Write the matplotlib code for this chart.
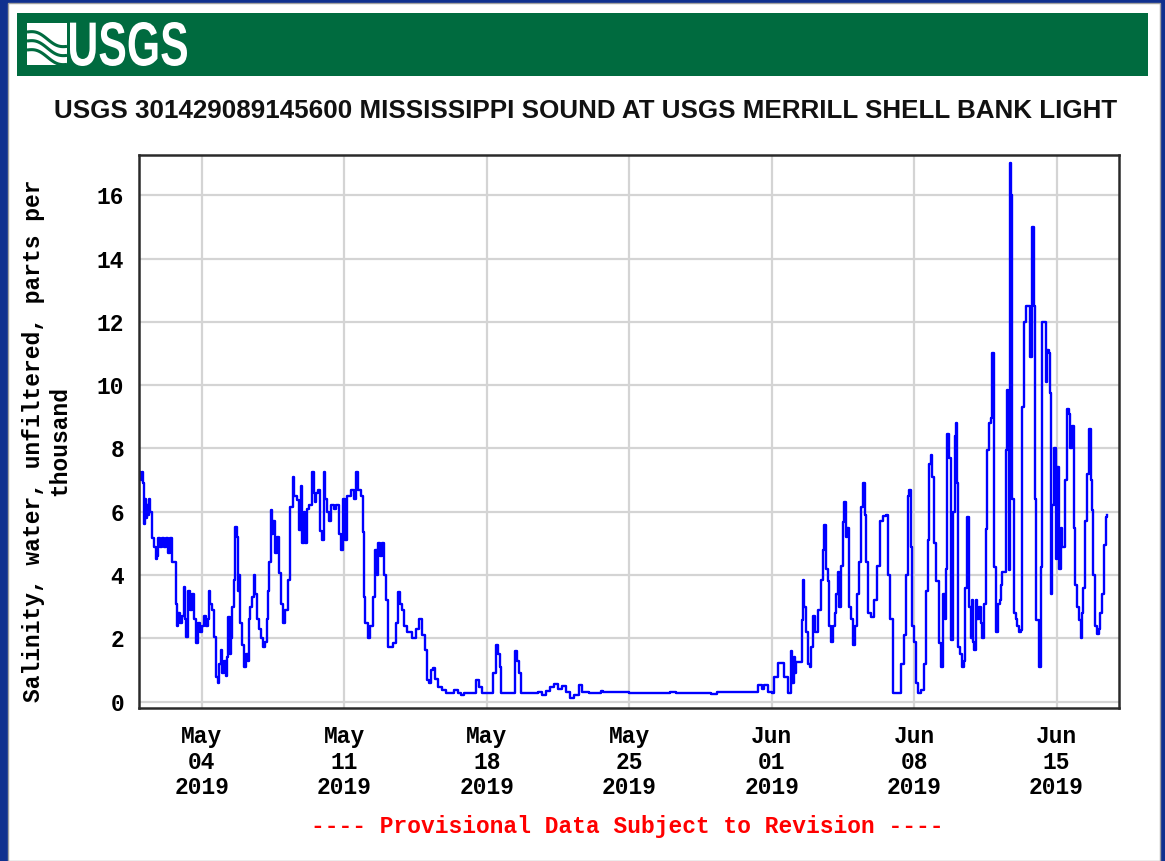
import numpy as np
import pandas as pd
import matplotlib
matplotlib.use('Agg')
import matplotlib.pyplot as plt
import matplotlib.dates as mdates
from matplotlib.patches import Rectangle, PathPatch
from matplotlib.textpath import TextPath
from matplotlib.font_manager import FontProperties
from matplotlib.transforms import Affine2D

# dias contados a partir de 2019-05-01 00:00
dias = [
    -0.08, 0.0, 0.05, 0.12, 0.15, 0.2, 0.25, 0.3, 0.35, 0.4, 0.45, 0.55, 0.65, 0.72, 0.8, 0.85,
    0.95, 1.05, 1.15, 1.25, 1.35, 1.45, 1.55, 1.7, 1.75, 1.8, 1.9, 2.0, 2.1, 2.15, 2.2, 2.3,
    2.4, 2.5, 2.6, 2.7, 2.8, 2.9, 3.0, 3.1, 3.2, 3.3, 3.35, 3.4, 3.5, 3.6, 3.7, 3.78,
    3.85, 3.95, 4.0, 4.1, 4.2, 4.25, 4.3, 4.38, 4.45, 4.5, 4.55, 4.6, 4.62, 4.7, 4.75, 4.8,
    4.85, 4.95, 5.05, 5.15, 5.25, 5.3, 5.35, 5.45, 5.55, 5.6, 5.7, 5.8, 5.9, 6.0, 6.1, 6.2,
    6.25, 6.3, 6.4, 6.45, 6.5, 6.6, 6.7, 6.8, 6.9, 7.0, 7.1, 7.25, 7.35, 7.45, 7.52, 7.65,
    7.75, 7.85, 7.92, 8.0, 8.06, 8.15, 8.25, 8.43, 8.5, 8.55, 8.6, 8.7, 8.8, 8.9, 8.99, 9.05,
    9.15, 9.25, 9.35, 9.5, 9.6, 9.75, 9.85, 9.94, 10.05, 10.15, 10.3, 10.45, 10.59, 10.65, 10.8, 10.9,
    10.95, 11.0, 11.15, 11.25, 11.4, 11.5, 11.6, 11.65, 11.75, 11.85, 11.95, 12.05, 12.15, 12.4, 12.55, 12.64,
    12.75, 12.85, 12.95, 13.1, 13.3, 13.5, 13.65, 13.8, 13.95, 14.05, 14.15, 14.25, 14.35, 14.45, 14.6, 14.8,
    15.0, 15.4, 15.6, 15.75, 15.9, 16.3, 16.45, 16.6, 16.75, 17.2, 17.3, 17.45, 17.55, 17.65, 17.71, 18.3,
    18.37, 18.5, 18.6, 18.7, 19.5, 19.7, 19.9, 20.1, 20.3, 20.5, 20.7, 20.9, 21.1, 21.3, 21.55, 21.7,
    22.0, 22.6, 22.7, 24.0, 26.0, 26.3, 28.0, 28.3, 30.3, 30.35, 30.5, 30.6, 30.8, 31.0, 31.1, 31.3,
    31.5, 31.6, 31.8, 31.95, 32.0, 32.08, 32.15, 32.2, 32.5, 32.55, 32.6, 32.7, 32.8, 32.88, 32.95, 33.05,
    33.15, 33.3, 33.42, 33.5, 33.58, 33.65, 33.75, 33.83, 33.92, 34.0, 34.1, 34.18, 34.25, 34.33, 34.4, 34.49,
    34.57, 34.65, 34.72, 34.8, 34.9, 35.0, 35.1, 35.2, 35.3, 35.4, 35.5, 35.58, 35.65, 35.75, 35.9, 36.05,
    36.2, 36.3, 36.45, 36.6, 36.7, 36.8, 36.94, 37.2, 37.35, 37.5, 37.6, 37.68, 37.75, 37.85, 37.92, 38.0,
    38.1, 38.17, 38.33, 38.5, 38.6, 38.7, 38.75, 38.82, 38.9, 39.0, 39.1, 39.2, 39.3, 39.4, 39.5, 39.55,
    39.6, 39.64, 39.72, 39.8, 39.9, 40.0, 40.05, 40.1, 40.15, 40.18, 40.25, 40.37, 40.45, 40.5, 40.62, 40.68,
    40.72, 40.78, 40.85, 40.9, 40.95, 41.02, 41.1, 41.2, 41.28, 41.36, 41.45, 41.52, 41.6, 41.7, 41.78, 41.85,
    41.93, 42.01, 42.1, 42.2, 42.26, 42.34, 42.42, 42.5, 42.55, 42.6, 42.66, 42.72, 42.78, 42.83, 42.92, 43.0,
    43.08, 43.16, 43.24, 43.32, 43.4, 43.48, 43.63, 43.7, 43.81, 43.88, 43.95, 44.0, 44.14, 44.22, 44.3, 44.4,
    44.47, 44.55, 44.63, 44.7, 44.75, 44.8, 44.88, 44.95, 45.04, 45.1, 45.2, 45.28, 45.4, 45.53, 45.6, 45.68,
    45.78, 45.85, 45.93, 46.0, 46.1, 46.18, 46.25, 46.32, 46.4, 46.5, 46.59, 46.67, 46.75, 46.8, 46.9, 47.0,
    47.08, 47.15, 47.25, 47.33, 47.41, 47.48,
]

salinidade = [
    7.26, 7.0, 7.26, 6.9, 5.6, 6.4, 5.8, 6.2, 5.9, 6.4, 6.0, 5.16, 4.89, 4.5, 4.6, 5.16,
    4.89, 5.16, 4.9, 5.16, 4.7, 5.16, 4.4, 3.1, 2.4, 2.8, 2.5, 2.7, 3.63, 2.6, 2.05, 3.5,
    2.9, 3.4, 2.6, 1.84, 2.5, 2.2, 2.4, 2.7, 2.4, 2.6, 3.5, 3.1, 2.9, 2.05, 0.79, 0.6,
    1.2, 1.63, 0.9, 1.3, 0.8, 1.4, 2.68, 1.5, 2.0, 3.0, 3.84, 4.5, 5.53, 5.2, 3.5, 4.0,
    2.5, 1.8, 1.1, 1.5, 1.3, 2.6, 3.0, 3.3, 4.0, 3.4, 2.6, 2.3, 2.0, 1.74, 1.9, 2.6,
    3.5, 4.4, 6.05, 5.3, 5.7, 4.7, 5.2, 4.06, 3.1, 2.48, 2.9, 3.84, 6.16, 7.1, 6.5, 6.37,
    5.42, 6.8, 5.0, 6.0, 5.0, 6.1, 6.2, 7.26, 6.6, 6.3, 6.6, 6.7, 5.4, 5.1, 7.26, 6.4,
    6.0, 5.7, 6.2, 6.1, 6.2, 5.3, 4.8, 6.4, 5.1, 6.5, 6.7, 6.4, 7.26, 6.7, 6.5, 5.37,
    3.3, 2.48, 2.0, 2.4, 3.3, 4.79, 4.0, 5.0, 4.6, 5.0, 4.0, 3.2, 1.74, 1.84, 2.5, 3.47,
    3.1, 2.9, 2.4, 2.2, 2.0, 2.3, 2.6, 2.1, 1.63, 0.69, 0.58, 1.0, 1.05, 0.7, 0.47, 0.37,
    0.26, 0.37, 0.26, 0.2, 0.27, 0.27, 0.68, 0.45, 0.27, 0.27, 0.9, 1.79, 1.5, 1.1, 0.27, 0.27,
    1.6, 1.3, 0.9, 0.27, 0.3, 0.2, 0.35, 0.45, 0.55, 0.4, 0.5, 0.3, 0.1, 0.2, 0.53, 0.3,
    0.27, 0.35, 0.3, 0.27, 0.3, 0.27, 0.25, 0.3, 0.3, 0.53, 0.4, 0.53, 0.3, 0.27, 0.79, 1.21,
    1.21, 0.79, 0.27, 1.6, 0.6, 1.4, 0.9, 1.26, 2.58, 3.84, 3.0, 2.2, 1.2, 1.1, 1.74, 2.7,
    2.2, 2.9, 3.84, 4.8, 5.58, 4.2, 3.8, 2.4, 1.9, 2.4, 2.8, 3.4, 4.1, 3.0, 4.3, 5.68,
    6.3, 5.2, 5.5, 3.0, 2.6, 1.79, 2.4, 3.4, 4.4, 6.16, 6.9, 5.9, 4.4, 2.8, 2.68, 3.2,
    4.3, 5.7, 5.85, 5.9, 4.0, 2.6, 0.26, 0.26, 1.2, 2.1, 4.0, 6.5, 6.7, 4.9, 2.4, 1.9,
    0.6, 0.26, 0.37, 1.2, 3.5, 5.1, 7.5, 7.8, 7.1, 5.0, 3.8, 1.84, 1.1, 3.4, 2.6, 4.2,
    7.2, 8.47, 7.7, 1.94, 6.0, 8.4, 8.8, 6.9, 5.9, 1.74, 1.5, 1.1, 1.3, 3.6, 5.84, 5.7,
    3.0, 2.0, 3.2, 1.9, 1.63, 3.2, 2.6, 3.0, 2.47, 2.0, 3.1, 5.47, 7.95, 8.8, 8.95, 11.0,
    4.26, 2.2, 3.1, 3.2, 3.68, 4.1, 4.1, 7.95, 9.85, 9.1, 4.15, 17.03, 16.0, 6.4, 2.79, 2.6,
    2.4, 2.2, 2.25, 9.3, 12.0, 12.5, 12.5, 10.9, 15.0, 12.5, 6.4, 2.58, 1.1, 4.26, 12.0, 12.0,
    10.1, 11.1, 11.0, 9.74, 3.4, 6.2, 8.0, 4.5, 7.4, 4.2, 5.5, 4.9, 7.0, 9.26, 9.1, 8.0,
    8.7, 5.5, 3.7, 3.0, 2.58, 2.0, 2.8, 3.6, 5.7, 7.2, 8.6, 7.0, 6.05, 4.0, 2.4, 2.15,
    2.3, 2.8, 3.4, 4.95, 5.84, 5.9,
]

ticks_y = [0, 2, 4, 6, 8, 10, 12, 14, 16]
ticks_x = ['2019-05-04', '2019-05-11', '2019-05-18', '2019-05-25',
           '2019-06-01', '2019-06-08', '2019-06-15']

titulo = 'USGS 301429089145600 MISSISSIPPI SOUND AT USGS MERRILL SHELL BANK LIGHT'
rotulo_y = 'Salinity, water, unfiltered, parts per\nthousand'
aviso = '---- Provisional Data Subject to Revision ----'

inicio = pd.Timestamp('2019-05-01')
tempo = inicio + pd.to_timedelta(dias, unit='D')

MONO = ['Liberation Mono', 'DejaVu Sans Mono']
W, H = 1165, 861

fig = plt.figure(figsize=(W / 100, H / 100), dpi=100, facecolor='#10308f')
fig.add_artist(Rectangle((8 / W, 0), 1152 / W, 858 / H, transform=fig.transFigure,
                         facecolor='white', edgecolor='#a0a0a0', lw=1, zorder=-1))

# faixa verde com logotipo
ax_b = fig.add_axes([17 / W, 1 - 76 / H, 1131 / W, 63.3 / H])
ax_b.set_facecolor('#006b3f')
ax_b.set_xlim(0, 1131)
ax_b.set_ylim(0, 63.3)
ax_b.set_xticks([])
ax_b.set_yticks([])
for s in ax_b.spines.values():
    s.set_visible(False)

ax_b.add_patch(Rectangle((10, 11), 40, 42, facecolor='white', edgecolor='none'))
xw = np.linspace(10, 50, 60)
for desl in [0, 9, 18]:
    ax_b.plot(xw, 44 - desl - 0.35 * (xw - 10) + 3 * np.sin((xw - 10) / 6.5),
              color='#006b3f', lw=2.2, solid_capstyle='butt')

fp_logo = FontProperties(family=['Liberation Sans Narrow', 'Liberation Sans'], weight='bold')
tp = TextPath((0, 0), 'USGS', size=1, prop=fp_logo)
bb = tp.get_extents()
tr = Affine2D().translate(-bb.x0, -bb.y0).scale(117 / bb.width, 44 / bb.height).translate(53, 10)
ax_b.add_patch(PathPatch(tr.transform_path(tp), facecolor='white', edgecolor='none'))

# titulo
fig.text(586 / W, 1 - 111 / H, titulo, ha='center', va='center', fontsize=18.7,
         fontweight='bold', family='Liberation Sans', color='#111111')

# grafico principal
ax = fig.add_axes([139.3 / W, 1 - 708.3 / H, (1119 - 139.3) / W, (708.3 - 155) / H])
ax.plot(tempo, salinidade, color='#0000ff', lw=1.7, drawstyle='steps-post')
ax.set_ylim(-0.21, 17.27)
ax.set_xlim(inicio - pd.Timedelta(days=0.08), inicio + pd.Timedelta(days=48.07))
ax.set_yticks(ticks_y)
ax.set_xticks(pd.to_datetime(ticks_x))
ax.xaxis.set_major_formatter(mdates.DateFormatter('%b\n%d\n%Y'))
ax.grid(True, color='#d4d4d4', lw=1.6)
ax.set_axisbelow(True)
ax.tick_params(length=0)
ax.tick_params(axis='y', pad=11)
ax.tick_params(axis='x', pad=12)
for lab in ax.get_xticklabels() + ax.get_yticklabels():
    lab.set_fontfamily(MONO)
    lab.set_fontweight('bold')
    lab.set_fontsize(16.5)
for lab in ax.get_xticklabels():
    lab.set_linespacing(1.15)
for s in ax.spines.values():
    s.set_color('#2a2a2a')
    s.set_linewidth(1.8)

fig.text(46.5 / W, 1 - 441 / H, rotulo_y, rotation=90, ha='center', va='center',
         multialignment='center', fontsize=16.5, fontweight='bold', family=MONO,
         linespacing=1.15)

fig.text(627 / W, 1 - 827 / H, aviso, ha='center', va='center', fontsize=16.5,
         fontweight='bold', family=MONO, color='#ff0000')

fig.savefig('out.png', dpi=100, facecolor=fig.get_facecolor())
